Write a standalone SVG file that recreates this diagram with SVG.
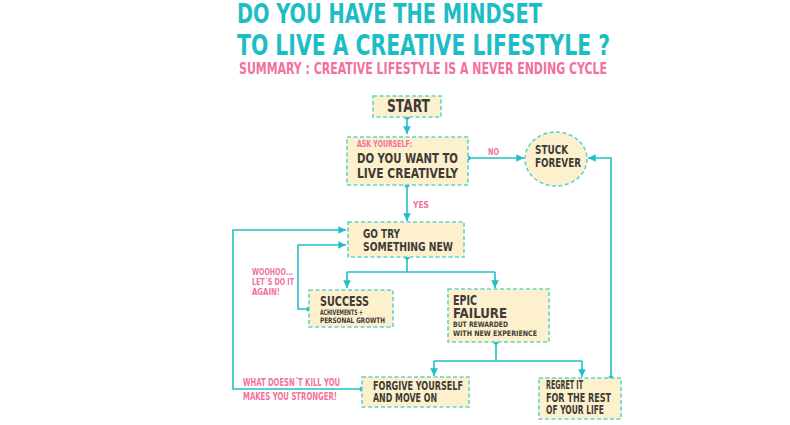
<svg xmlns="http://www.w3.org/2000/svg" width="790" height="425" viewBox="0 0 790 425">
<style>
text{font-family:"DejaVu Sans Condensed","DejaVu Sans","Liberation Sans",sans-serif;font-weight:bold}
.title{fill:#1dbdc6}
.pink{fill:#f2709f}
.dark{fill:#3d3b38}
.box{fill:#fcf1cc;stroke:#5fd3ca;stroke-width:1.6;stroke-dasharray:4 2.5}
.ln{fill:none;stroke:#22bfc8;stroke-width:1.6}
.dot{fill:#22bfc8}
</style>
<defs>
<marker id="ah" viewBox="0 0 10 10" refX="10" refY="5" markerWidth="4.8" markerHeight="4.8" markerUnits="strokeWidth" orient="auto">
<path d="M0,0 L10,5 L0,10 Z" fill="#22bfc8"/>
</marker>
</defs>
<rect width="790" height="425" fill="#ffffff"/>
<g id="title">
<text class="title" x="237" y="23" font-size="26" textLength="305" lengthAdjust="spacingAndGlyphs">DO YOU HAVE THE MINDSET</text>
<text class="title" x="237" y="55" font-size="28" textLength="373" lengthAdjust="spacingAndGlyphs">TO LIVE A CREATIVE LIFESTYLE ?</text>
<text class="pink" x="239" y="73.5" font-size="16.5" textLength="368" lengthAdjust="spacingAndGlyphs">SUMMARY : CREATIVE LIFESTYLE IS A NEVER ENDING CYCLE</text>
</g>
<g id="connectors">
<path class="ln" d="M407,117 V134" marker-end="url(#ah)"/>
<path class="ln" d="M468,158 H524" marker-end="url(#ah)"/>
<path class="ln" d="M407,185 V221" marker-end="url(#ah)"/>
<path class="ln" d="M407,257 V272 M347,272 H495"/>
<path class="ln" d="M347,272 V288" marker-end="url(#ah)"/>
<path class="ln" d="M495,272 V288" marker-end="url(#ah)"/>
<path class="ln" d="M309,309 H298 V245 H346" marker-end="url(#ah)"/>
<path class="ln" d="M496,342 V361 M434,361 H582"/>
<path class="ln" d="M434,361 V376" marker-end="url(#ah)"/>
<path class="ln" d="M582,361 V377" marker-end="url(#ah)"/>
<path class="ln" d="M362,389 H233 V230 H346" marker-end="url(#ah)"/>
<path class="ln" d="M611,378 V158 H588" marker-end="url(#ah)"/>
<circle class="dot" cx="407" cy="117" r="2.6"/>
<circle class="dot" cx="468" cy="158" r="2.6"/>
<circle class="dot" cx="407" cy="185" r="2.6"/>
<circle class="dot" cx="407" cy="257" r="2.6"/>
<circle class="dot" cx="309" cy="309" r="2.6"/>
<circle class="dot" cx="496" cy="342" r="2.6"/>
<circle class="dot" cx="362" cy="389" r="2.6"/>
<circle class="dot" cx="611" cy="378" r="2.6"/>
<text class="pink" x="488" y="155" font-size="8.5" textLength="11" lengthAdjust="spacingAndGlyphs">NO</text>
<text class="pink" x="413" y="208" font-size="9" textLength="16" lengthAdjust="spacingAndGlyphs">YES</text>
<text class="pink" x="252" y="275" font-size="9" textLength="41" lengthAdjust="spacingAndGlyphs">WOOHOO...</text>
<text class="pink" x="252" y="285" font-size="9" textLength="42" lengthAdjust="spacingAndGlyphs">LET´S DO IT</text>
<text class="pink" x="252" y="295" font-size="9" textLength="28" lengthAdjust="spacingAndGlyphs">AGAIN!</text>
<text class="pink" x="243" y="386" font-size="10" textLength="97" lengthAdjust="spacingAndGlyphs">WHAT DOESN´T KILL YOU</text>
<text class="pink" x="243" y="399.5" font-size="10" textLength="94" lengthAdjust="spacingAndGlyphs">MAKES YOU STRONGER!</text>
</g>
<g id="start">
<rect class="box" x="373" y="96" width="68" height="21"/>
<text class="dark" x="387" y="112" font-size="17" textLength="43" lengthAdjust="spacingAndGlyphs">START</text>
</g>
<g id="ask">
<rect class="box" x="347" y="137" width="121" height="48"/>
<text class="pink" x="357" y="147" font-size="8" textLength="55" lengthAdjust="spacingAndGlyphs">ASK YOURSELF:</text>
<text class="dark" x="357" y="163" font-size="14.5" textLength="101" lengthAdjust="spacingAndGlyphs">DO YOU WANT TO</text>
<text class="dark" x="357" y="178" font-size="14.5" textLength="101" lengthAdjust="spacingAndGlyphs">LIVE CREATIVELY</text>
</g>
<g id="stuck">
<ellipse class="box" cx="556" cy="159" rx="31" ry="27"/>
<text class="dark" x="535" y="154" font-size="13" textLength="33" lengthAdjust="spacingAndGlyphs">STUCK</text>
<text class="dark" x="535" y="167" font-size="13" textLength="46" lengthAdjust="spacingAndGlyphs">FOREVER</text>
</g>
<g id="gotry">
<rect class="box" x="348" y="222" width="116" height="35"/>
<text class="dark" x="363" y="238" font-size="13" textLength="37" lengthAdjust="spacingAndGlyphs">GO TRY</text>
<text class="dark" x="363" y="251" font-size="13" textLength="90" lengthAdjust="spacingAndGlyphs">SOMETHING NEW</text>
</g>
<g id="success">
<rect class="box" x="309" y="290" width="84" height="37"/>
<text class="dark" x="320" y="306" font-size="14" textLength="49" lengthAdjust="spacingAndGlyphs">SUCCESS</text>
<text class="dark" x="320" y="314.5" font-size="7.5" textLength="43" lengthAdjust="spacingAndGlyphs">ACHIVEMENTS +</text>
<text class="dark" x="320" y="322.5" font-size="7.5" textLength="65" lengthAdjust="spacingAndGlyphs">PERSONAL GROWTH</text>
</g>
<g id="epic">
<rect class="box" x="448" y="289" width="101" height="53"/>
<text class="dark" x="453" y="305" font-size="13.5" textLength="24" lengthAdjust="spacingAndGlyphs">EPIC</text>
<text class="dark" x="453" y="318" font-size="13.5" textLength="54" lengthAdjust="spacingAndGlyphs">FAILURE</text>
<text class="dark" x="453" y="327" font-size="7.5" textLength="55" lengthAdjust="spacingAndGlyphs">BUT REWARDED</text>
<text class="dark" x="453" y="335.5" font-size="7.5" textLength="84" lengthAdjust="spacingAndGlyphs">WITH NEW EXPERIENCE</text>
</g>
<g id="forgive">
<rect class="box" x="362" y="377" width="107" height="30"/>
<text class="dark" x="373" y="390" font-size="11.5" textLength="90" lengthAdjust="spacingAndGlyphs">FORGIVE YOURSELF</text>
<text class="dark" x="373" y="402" font-size="11.5" textLength="64" lengthAdjust="spacingAndGlyphs">AND MOVE ON</text>
</g>
<g id="regret">
<rect class="box" x="539" y="378" width="82" height="41"/>
<text class="dark" x="546" y="389" font-size="11.5" textLength="37" lengthAdjust="spacingAndGlyphs">REGRET IT</text>
<text class="dark" x="546" y="402" font-size="11.5" textLength="65" lengthAdjust="spacingAndGlyphs">FOR THE REST</text>
<text class="dark" x="546" y="414" font-size="11.5" textLength="58" lengthAdjust="spacingAndGlyphs">OF YOUR LIFE</text>
</g>
</svg>
